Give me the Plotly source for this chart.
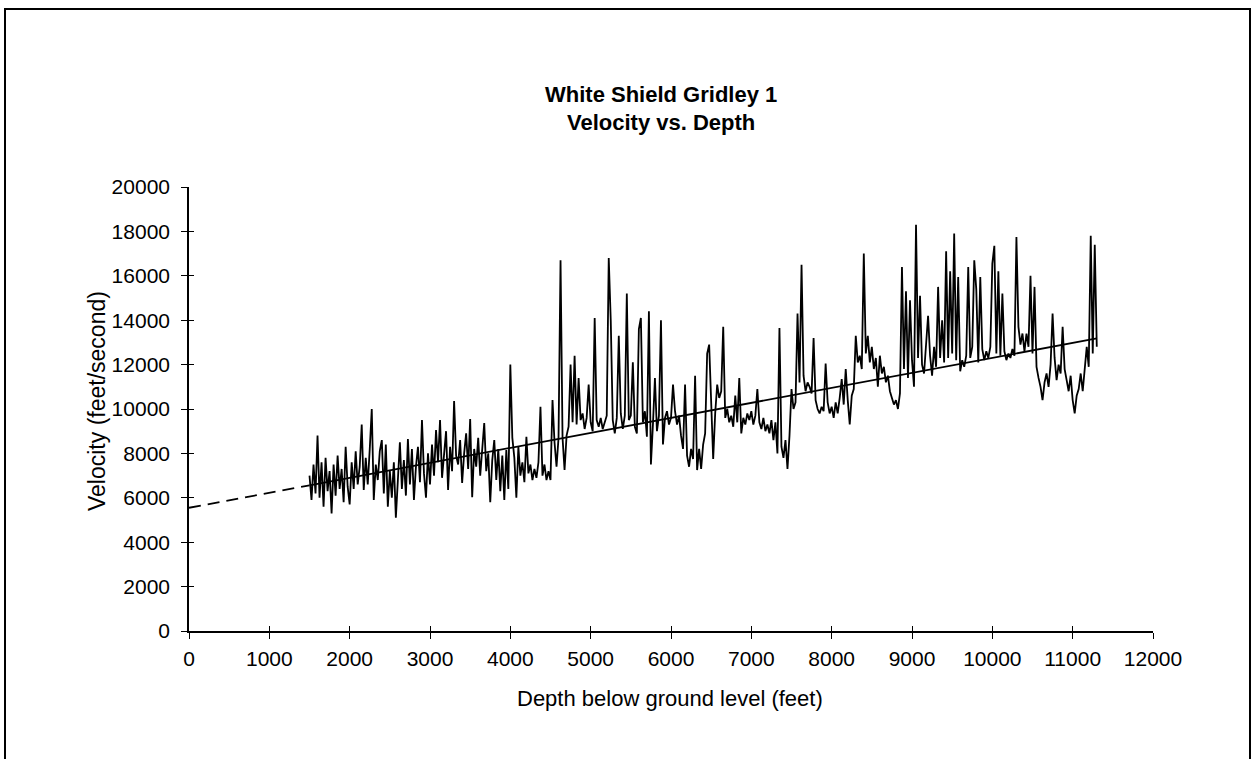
import plotly.graph_objects as go

# ---- data ----
depth_ft = list(range(1500, 11301, 25))
velocity_fps = [
    7000, 5900, 7500, 6200, 8800, 6000, 7600, 5600, 7800, 6300, 7200, 5300, 7500, 6100, 7900, 6400, 7300, 5800, 8300, 6500,
    5700, 7600, 6400, 8100, 6600, 7400, 9300, 6350, 7800, 6600, 8200, 10000, 5900, 7500, 6800, 8100, 8600, 6200, 8400, 5600,
    7200, 6000, 7600, 5100, 6800, 8500, 6400, 7700, 6100, 8650, 6600, 8200, 5900, 7400, 8300, 6700, 9500, 7100, 6000, 8000,
    6600, 8400, 7000, 9050, 7600, 9500, 6900, 8100, 9000, 6350, 8300, 7200, 10360, 7900, 7500, 8600, 6670, 8000, 8900, 7300,
    9550, 6030, 8200, 7400, 8700, 7000, 8400, 9370, 7200, 8000, 5800, 7700, 8600, 6800, 8200, 6300, 7900, 5900, 8150, 6400,
    12000, 8700, 7800, 6000, 8300, 7000, 7600, 6700, 8750, 7100, 7500, 6800, 7300, 6900, 7600, 10100, 7000, 7500, 6800, 7200,
    6800, 10400, 8500, 7400, 8700, 16700, 8700, 7250, 8800, 9200, 12000, 9400, 12400, 9300, 11400, 9500, 9800, 9100, 9600, 11100,
    9400, 9000, 14100, 9500, 9200, 9600, 9100, 9400, 9700, 16800, 14000, 9500, 8900, 9600, 13300, 9800, 9100, 9700, 15200, 9500,
    9700, 12100, 9200, 8900, 13600, 14100, 9400, 9900, 8750, 14400, 7500, 9300, 11400, 9000, 9700, 14000, 8400, 9600, 9900, 9300,
    9600, 11100, 9900, 9300, 9700, 8800, 8200, 11100, 7900, 7400, 8200, 7750, 11500, 7250, 8200, 7300, 8400, 8900, 12500, 12900,
    10300, 7750, 9800, 11100, 10500, 10800, 13700, 9600, 10000, 9400, 9700, 9200, 10600, 9400, 11400, 8900, 9600, 9300, 9800, 9500,
    9900, 9300, 9700, 10900, 9400, 9100, 9600, 9000, 9300, 8900, 9500, 8600, 9400, 8000, 13650, 8300, 7800, 8600, 7300, 8800,
    10900, 10000, 10300, 14300, 11200, 16500, 11500, 10800, 11200, 11000, 10700, 13200, 10400, 10000, 9800, 10100, 9900, 12050, 10300, 9800,
    10100, 9600, 10300, 9800, 10500, 11350, 10200, 11800, 10400, 9300, 10600, 10900, 13300, 12100, 12400, 11800, 17000, 12500, 13300, 12100,
    12800, 11800, 12300, 11000, 12400, 11600, 11900, 11200, 11500, 10800, 10500, 10200, 10400, 10000, 10700, 16400, 11800, 15300, 11400, 14900,
    12200, 11000, 18300, 12300, 15100, 12000, 11600, 13000, 14200, 12400, 11500, 12800, 11900, 15500, 12300, 14000, 12100, 17100, 12300, 16200,
    12500, 17900, 12200, 15950, 11700, 12200, 11900, 12400, 16400, 12300, 12800, 16700, 15400, 12100, 15950, 12700, 12200, 12600, 12300, 12800,
    16550, 17350, 12500, 16200, 12400, 15200, 12600, 12200, 12500, 12300, 12700, 12400, 17750, 13700, 12900, 13400, 12600, 13400, 12800, 16000,
    12500, 15500, 11900, 11400, 11000, 10400, 11200, 11600, 11000, 12000, 14300, 12300, 11300, 12000, 11600, 13700, 11800, 11300, 10800, 11500,
    10400, 9800, 10600, 10900, 11600, 10800, 12000, 12800, 11900, 17800, 12500, 17400, 12800,
]
assert len(depth_ft) == len(velocity_fps)

trend_dash_depth = [0, 1500]
trend_dash_velocity = [5550, 6560]
trend_depth = [1500, 11300]
trend_velocity = [6560, 13180]

x_ticks = list(range(0, 12001, 1000))
y_ticks = list(range(0, 20001, 2000))

title_lines = ["White Shield Gridley 1", "Velocity vs. Depth"]
x_title = "Depth below ground level (feet)"
y_title = "Velocity (feet/second)"

# ---- layout geometry ----
W, H = 1254, 759
L, R, T, B = 189, 101, 187, 128
PW, PH = W - L - R, H - T - B
FONT = "Liberation Sans, Arial, Helvetica, sans-serif"


def px_to_paper(px, py):
    return (px - L) / PW, (H - B - py) / PH


fig = go.Figure()
fig.add_trace(go.Scatter(x=depth_ft, y=velocity_fps, mode="lines",
                         line=dict(color="black", width=1.8),
                         showlegend=False, hoverinfo="skip"))
fig.add_trace(go.Scatter(x=trend_dash_depth, y=trend_dash_velocity, mode="lines",
                         line=dict(color="black", width=1.8, dash="12px,7px"),
                         showlegend=False, hoverinfo="skip"))
fig.add_trace(go.Scatter(x=trend_depth, y=trend_velocity, mode="lines",
                         line=dict(color="black", width=1.8),
                         showlegend=False, hoverinfo="skip"))
# invisible trace so the overlay axes (inner tick halves) are drawn
fig.add_trace(go.Scatter(x=[None], y=[None], xaxis="x2", yaxis="y2",
                         showlegend=False, hoverinfo="skip"))

axis_common = dict(showgrid=False, zeroline=False, tickcolor="black",
                   tickfont=dict(family=FONT, size=21, color="black"))

fig.update_layout(
    width=W, height=H,
    margin=dict(l=L, r=R, t=T, b=B, pad=0),
    paper_bgcolor="white", plot_bgcolor="white",
    font=dict(family=FONT, color="black"),
    xaxis=dict(range=[0, 12000], tickvals=x_ticks, ticktext=[str(v) for v in x_ticks],
               ticks="outside", ticklen=6, tickwidth=1.3, showline=True,
               linecolor="black", linewidth=1.6, ticklabelstandoff=2, **axis_common),
    yaxis=dict(range=[0, 20000], tickvals=y_ticks, ticktext=[str(v) for v in y_ticks],
               ticks="outside", ticklen=6, tickwidth=1.3, showline=True,
               linecolor="black", linewidth=1.6, ticklabelstandoff=7, **axis_common),
    xaxis2=dict(range=[0, 12000], overlaying="x", anchor="y2", side="bottom",
                tickvals=x_ticks, ticks="inside", ticklen=5, tickwidth=1.3,
                showticklabels=False, showline=False, showgrid=False, zeroline=False,
                tickcolor="black"),
    yaxis2=dict(range=[0, 20000], overlaying="y", anchor="x2", side="left",
                tickvals=y_ticks, ticks="inside", ticklen=5, tickwidth=1.3,
                showticklabels=False, showline=False, showgrid=False, zeroline=False,
                tickcolor="black"),
)

ann = []
for text, py in zip(title_lines, [95, 123]):
    x, y = px_to_paper(661, py)
    ann.append(dict(text="<b>" + text + "</b>", x=x, y=y, xref="paper", yref="paper",
                    showarrow=False, xanchor="center", yanchor="middle",
                    font=dict(family=FONT, size=22, color="black")))
x, y = px_to_paper(670, 698)
ann.append(dict(text=x_title, x=x, y=y, xref="paper", yref="paper", showarrow=False,
                xanchor="center", yanchor="middle",
                font=dict(family=FONT, size=22, color="black")))
x, y = px_to_paper(97, 401)
ann.append(dict(text=y_title, x=x, y=y, xref="paper", yref="paper", showarrow=False,
                xanchor="center", yanchor="middle", textangle=-90,
                font=dict(family=FONT, size=23, color="black")))
fig.update_layout(annotations=ann)

# outer frame of the chart sheet
x0, y1 = px_to_paper(5, 9)
x1, y0 = px_to_paper(1250, 775)
fig.add_shape(type="rect", xref="paper", yref="paper", x0=x0, x1=x1, y0=y0, y1=y1,
              line=dict(color="black", width=2), fillcolor="rgba(0,0,0,0)", layer="above")

fig.write_html("out.html", config={"displayModeBar": False},
               post_script="document.body.style.margin='0px';")
